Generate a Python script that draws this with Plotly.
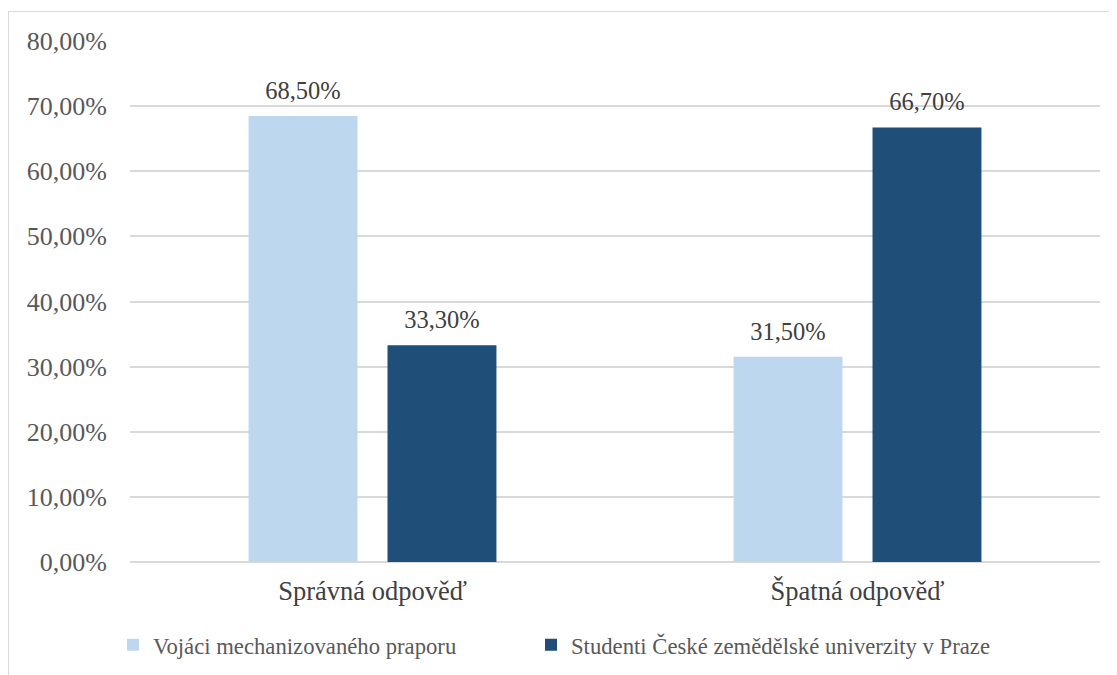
import plotly.graph_objects as go

categories = ["Správná odpověď", "Špatná odpověď"]
series_names = ["Vojáci mechanizovaného praporu", "Studenti České zemědělské univerzity v Praze"]
vojaci = [0.685, 0.315]
studenti = [0.333, 0.667]
colors = ["#BDD7EE", "#1F4E79"]

# page body has an 8px margin, so figure is placed at (8, 8) in the window
OFF = 8
W, H = 1117 - OFF, 675 - OFF
L, R, T, B = 130 - OFF, 17, 41 - OFF, 113
pw, ph = W - L - R, H - T - B

def px_x(x):  # window pixel -> paper
    return (x - OFF - L) / pw

def px_y(y):
    return (H - B - (y - OFF)) / ph

font_family = "Liberation Serif"
BARGAP = 0.427

fig = go.Figure()
legend_ids = ["legend", "legend2"]
for name, vals, col, lg in zip(series_names, [vojaci, studenti], colors, legend_ids):
    fig.add_trace(go.Bar(
        x=categories, y=vals, name=name, legend=lg,
        marker=dict(color=col, line=dict(width=0)),
        hoverinfo="skip",
    ))
# data labels, grouped like the bars
for name, vals in zip(series_names, [vojaci, studenti]):
    fig.add_trace(go.Scatter(
        x=categories, y=vals, mode="markers+text", showlegend=False,
        marker=dict(size=16, color="rgba(0,0,0,0)"),
        texttemplate="%{y:.2%}", textposition="top center", cliponaxis=False,
        textfont=dict(family=font_family, size=24.5, color="#404040"), hoverinfo="skip",
    ))

legend_common = dict(orientation="h", xanchor="left", y=px_y(645), yanchor="middle",
                     font=dict(family=font_family, size=22.7, color="#595959"), itemwidth=30,
                     bgcolor="rgba(0,0,0,0)")

fig.update_layout(
    width=W, height=H,
    margin=dict(l=L, r=R, t=T, b=B, autoexpand=False),
    paper_bgcolor="white", plot_bgcolor="white",
    separators=", ",
    barmode="group", bargap=BARGAP, bargroupgap=0.216,
    scattermode="group", scattergap=BARGAP,
    font=dict(family=font_family, color="#595959"),
    xaxis=dict(showgrid=False, ticks="", tickfont=dict(family=font_family, size=26.5, color="#404040"),
               showline=False, automargin=False, ticklabelstandoff=10),
    yaxis=dict(range=[0, 0.8], dtick=0.1, tickformat=".2%", showgrid=True,
               gridcolor="#D9D9D9", gridwidth=1.5, zeroline=True, zerolinecolor="#D9D9D9",
               zerolinewidth=1.5, tickfont=dict(family=font_family, size=26, color="#595959"), ticks="",
               ticklabelstandoff=22, automargin=False),
    legend=dict(x=px_x(113), **legend_common),
    legend2=dict(x=px_x(531), **legend_common),
    showlegend=True,
)

fig.add_shape(type="rect", xref="paper", yref="paper",
              x0=px_x(8.5), x1=px_x(1140), y0=px_y(700), y1=px_y(11.5),
              line=dict(color="#D9D9D9", width=1), fillcolor="rgba(0,0,0,0)", layer="below")

fig.write_html("out.html")
